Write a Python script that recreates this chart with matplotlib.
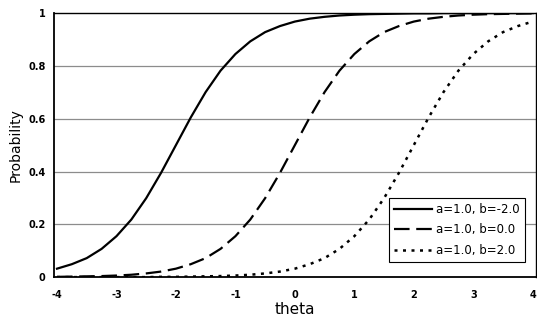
import matplotlib
matplotlib.use("Agg")
import matplotlib.pyplot as plt

theta = [-4.0, -3.75, -3.5, -3.25, -3.0, -2.75, -2.5, -2.25, -2.0, -1.75, -1.5, -1.25,
         -1.0, -0.75, -0.5, -0.25, 0.0, 0.25, 0.5, 0.75, 1.0, 1.25, 1.5, 1.75,
         2.0, 2.25, 2.5, 2.75, 3.0, 3.25, 3.5, 3.75, 4.0]

p_b_neg2 = [0.032, 0.049, 0.072, 0.107, 0.155, 0.218, 0.299, 0.395, 0.500, 0.605, 0.701, 0.782,
            0.845, 0.893, 0.928, 0.951, 0.968, 0.979, 0.986, 0.991, 0.994, 0.996, 0.997, 0.998,
            0.999, 0.999, 1.000, 1.000, 1.000, 1.000, 1.000, 1.000, 1.000]
p_b_0 = [0.001, 0.002, 0.003, 0.004, 0.006, 0.009, 0.014, 0.021, 0.032, 0.049, 0.072, 0.107,
         0.155, 0.218, 0.299, 0.395, 0.500, 0.605, 0.701, 0.782, 0.845, 0.893, 0.928, 0.951,
         0.968, 0.979, 0.986, 0.991, 0.994, 0.996, 0.997, 0.998, 0.999]
p_b_2 = [0.000, 0.000, 0.000, 0.000, 0.000, 0.000, 0.000, 0.001, 0.001, 0.002, 0.003, 0.004,
         0.006, 0.009, 0.014, 0.021, 0.032, 0.049, 0.072, 0.107, 0.155, 0.218, 0.299, 0.395,
         0.500, 0.605, 0.701, 0.782, 0.845, 0.893, 0.928, 0.951, 0.968]

labels = ["a=1.0, b=-2.0", "a=1.0, b=0.0", "a=1.0, b=2.0"]
yticks = [0, 0.2, 0.4, 0.6, 0.8, 1]
ytick_labels = ["0", "0.2", "0.4", "0.6", "0.8", "1"]
xticks = [-4, -3, -2, -1, 0, 1, 2, 3, 4]

fig = plt.figure(figsize=(5.37, 3.2), dpi=100)
ax = fig.add_axes([0.1006, 0.134, 0.897, 0.825])

for y in yticks[1:-1]:
    ax.axhline(y, color="#8c8c8c", lw=0.9, zorder=1)

ax.plot(theta, p_b_neg2, color="black", lw=1.6, ls="-", label=labels[0], zorder=3,
        solid_joinstyle="round")
ax.plot(theta, p_b_0, color="black", lw=1.6, ls=(0, (7, 3)), label=labels[1], zorder=3,
        dash_joinstyle="round")
ax.plot(theta, p_b_2, color="black", lw=1.8, ls=(0, (1.2, 2.2)), label=labels[2], zorder=3)

ax.set_xlim(-4.05, 4.05)
ax.set_ylim(0, 1)
ax.set_xticks(xticks)
ax.set_xticklabels([str(t) for t in xticks], fontsize=7, fontweight="bold")
ax.set_yticks(yticks)
ax.set_yticklabels(ytick_labels, fontsize=7, fontweight="bold")
ax.tick_params(axis="both", length=0, pad=6)
ax.tick_params(axis="x", pad=9)

for s in ax.spines.values():
    s.set_color("black")
    s.set_linewidth(1.0)
ax.spines["left"].set_linewidth(1.3)
ax.spines["bottom"].set_linewidth(1.3)

ax.set_xlabel("theta", fontsize=11, labelpad=2)
ax.set_ylabel("Probability", fontsize=10, labelpad=4)

leg = ax.legend(loc="lower right", bbox_to_anchor=(0.977, 0.057), fontsize=8.5,
                frameon=True, fancybox=False, handlelength=3.2, handletextpad=0.3,
                borderpad=0.45, labelspacing=0.62, borderaxespad=0)
leg.get_frame().set_edgecolor("black")
leg.get_frame().set_linewidth(0.8)
leg.get_frame().set_alpha(1)

fig.savefig("out.png", dpi=100)
